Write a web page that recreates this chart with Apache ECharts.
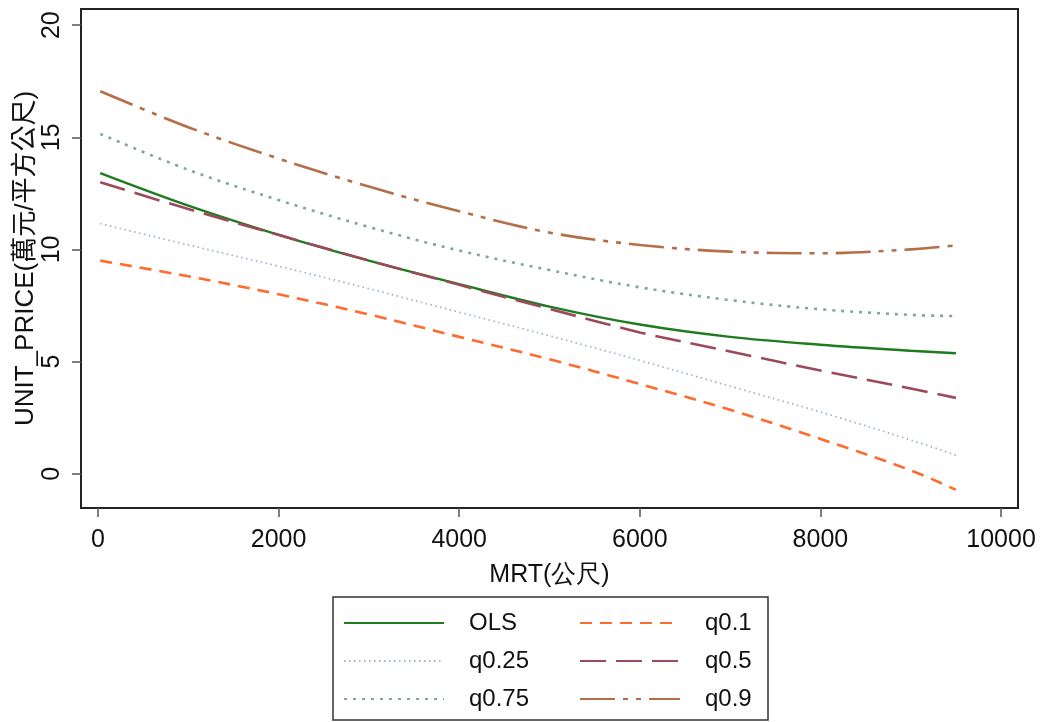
<!DOCTYPE html>
<html>
<head>
<meta charset="utf-8">
<title>MRT vs UNIT_PRICE</title>
<script src="https://cdn.jsdelivr.net/npm/echarts@6.0.0/dist/echarts.min.js"></script>
<style>
    html, body { margin: 0; padding: 0; background: #fff; }
    #main { width: 1048px; height: 722px; }
</style>
</head>
<body>
<div id="main"></div>
<script>
// 距離捷運站 (公尺)
var mrt = [25, 1000, 2000, 3000, 4000, 5000, 6000, 7000, 8000, 9000, 9500];
// 各模型的配適值
var ols = [13.4, 11.95, 10.65, 9.5, 8.45, 7.45, 6.65, 6.1, 5.75, 5.48, 5.37];
var q10 = [9.5, 8.8, 8.0, 7.1, 6.1, 5.1, 4.0, 2.85, 1.55, 0.15, -0.72];
var q25 = [11.15, 10.2, 9.25, 8.25, 7.2, 6.15, 5.05, 3.9, 2.75, 1.5, 0.83];
var q50 = [13.0, 11.8, 10.65, 9.5, 8.42, 7.35, 6.3, 5.45, 4.6, 3.8, 3.38];
var q75 = [15.15, 13.55, 12.2, 11.0, 9.95, 9.08, 8.31, 7.74, 7.33, 7.08, 7.03];
var q90 = [17.05, 15.45, 14.05, 12.8, 11.7, 10.75, 10.2, 9.9, 9.83, 10.0, 10.18];
var xTicks = [0, 2000, 4000, 6000, 8000, 10000];
var yTicks = [0, 5, 10, 15, 20];

var FONT = 'Liberation Sans';

var pairs = function(ys){
    var out = [];
    for (var i = 0; i < mrt.length; i++) {
        out.push([mrt[i], ys[i]]);
    }
    return out;
};

var makeSeries = function(name, ys, color, width, dash){
    return {
        name: name,
        type: 'line',
        smooth: 0.35,
        symbol: 'none',
        data: pairs(ys),
        lineStyle: { color: color, width: width, type: dash },
        itemStyle: { color: color }
    };
};

var plain = function(v){ return String(v); };

var chart = echarts.init(document.getElementById('main'));
chart.setOption({
    animation: false,
    backgroundColor: '#fff',
    textStyle: { fontFamily: FONT },
    grid: {
        left: 81, right: 30, top: 9, bottom: 214,
        show: true, borderColor: '#222', borderWidth: 2, backgroundColor: '#fff'
    },
    xAxis: {
        type: 'value',
        min: -188, max: 10188,
        name: 'MRT(公尺)',
        nameLocation: 'middle',
        nameGap: 55,
        nameMoveOverlap: false,
        nameTextStyle: { fontFamily: FONT, fontSize: 25, color: '#111' },
        axisLine: { show: false, onZero: false },
        splitLine: { show: false },
        axisTick: { show: true, customValues: xTicks, length: 9, lineStyle: { color: '#555', width: 1.5 } },
        axisLabel: { customValues: xTicks, formatter: plain, margin: 20, fontFamily: FONT, fontSize: 25, color: '#111' }
    },
    yAxis: {
        type: 'value',
        min: -1.53, max: 20.72,
        name: 'UNIT_PRICE(萬元/平方公尺)',
        nameLocation: 'middle',
        nameGap: 42,
        nameMoveOverlap: false,
        nameRotate: 90,
        nameTextStyle: { fontFamily: FONT + ', Noto Sans CJK TC', fontSize: 26, color: '#111' },
        axisLine: { show: false, onZero: false },
        splitLine: { show: false },
        axisTick: { show: true, customValues: yTicks, length: 9, lineStyle: { color: '#555', width: 1.5 } },
        axisLabel: { customValues: yTicks, formatter: plain, rotate: 90, margin: 16, fontFamily: FONT, fontSize: 25, color: '#111' }
    },
    legend: {
        data: ['OLS', 'q0.1', 'q0.25', 'q0.5', 'q0.75', 'q0.9'],
        left: 343, top: 611,
        width: 470,
        padding: 0,
        itemWidth: 100,
        itemHeight: 14,
        itemGap: 14,
        itemStyle: { opacity: 0 },
        textStyle: {
            fontFamily: FONT, fontSize: 24, color: '#111',
            width: 96, lineHeight: 18, padding: [0, 0, 0, 20]
        }
    },
    graphic: [{
        type: 'rect',
        shape: { x: 333, y: 597, width: 435, height: 123 },
        style: { fill: 'none', stroke: '#333', lineWidth: 1.5 }
    }],
    series: [
        makeSeries('OLS', ols, '#1e7b1e', 2.4, 'solid'),
        makeSeries('q0.1', q10, '#ff6a2e', 2.6, [12, 8]),
        makeSeries('q0.25', q25, '#9fb3cb', 1.8, [1.5, 3.5]),
        makeSeries('q0.5', q50, '#9b4a5b', 2.6, [26, 10]),
        makeSeries('q0.75', q75, '#87a596', 2.6, [3, 6]),
        makeSeries('q0.9', q90, '#b46e48', 2.6, [35, 8, 5, 8, 5, 8])
    ]
});
</script>
</body>
</html>
